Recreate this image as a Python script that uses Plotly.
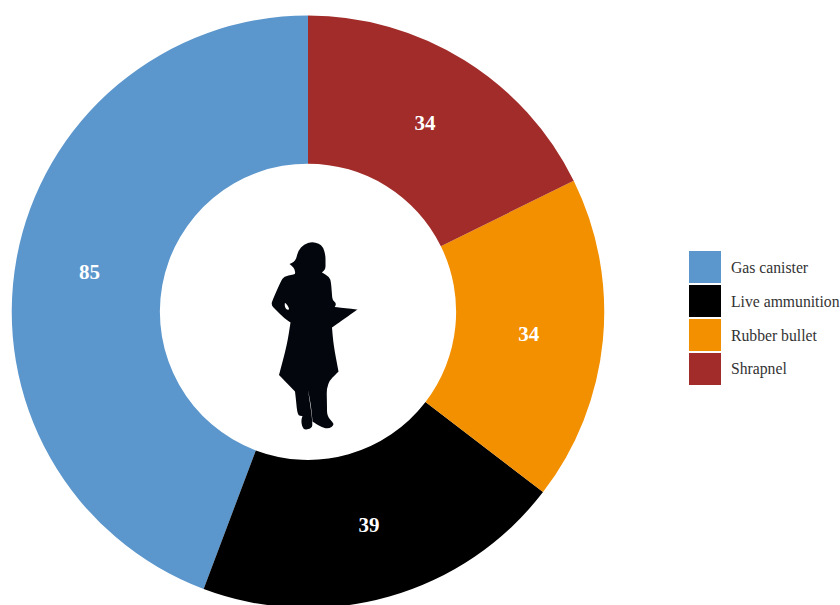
import plotly.graph_objects as go

categories = ["Gas canister", "Live ammunition", "Rubber bullet", "Shrapnel"]
values = [85, 39, 34, 34]
colors = ["#5B96CC", "#000000", "#F39000", "#A22C29"]

W, H = 840, 608
FONT = "Liberation Serif"

# Silhouette outline (window pixels); repeated points keep a corner sharp
figure_outline = [(312,241.8),(319,243.5),(323,247),(325.5,255),(325.5,264),(325.5,269),(322,272.5),(322,272.5),
    (329.5,277),(331,282),(332,295),(332.5,300),(336,303),(335.5,306),(334.5,307),(334.5,307),(357.5,309.5),(357.5,309.5),
    (332,327.5),(332,327.5),(333.5,345),(338.5,371.5),(338.5,371.5),(326.5,383.5),(327,405),(327,416),(332.5,422),
    (334,425),(329,428.8),(322,427.5),(313,422),(312.5,421.5),(311,405),(308,390),(308,390),(311,410),(312.5,423),(312,428),
    (305,430),(302,427),(301.2,420),(302.5,416),(302.5,416),(297.5,415.5),(296,400),(295,391.5),(295,391.5),
    (279,375),(279,375),(287,345),(290.5,322.5),(290.5,322.5),(284,318),(276,310),(271,305),(273,299),(281,281),
    (284,276.5),(293,274.5),(295.5,274),(294.5,269),(292.5,266.5),(289.5,264),(289.5,264),(294,262),(296.5,258),(298,251),(304,244)]
arm_gap = [(285,301.5),(290,309.5),(286.5,310),(284.5,306)]


def px(x):
    return x / W


def py(y):
    return 1 - y / H


def smooth_path(points):
    mids = [((points[i][0] + points[(i + 1) % len(points)][0]) / 2, (points[i][1] + points[(i + 1) % len(points)][1]) / 2)
            for i in range(len(points))]
    path = f"M{px(mids[-1][0]):.5f},{py(mids[-1][1]):.5f}"
    for p, m in zip(points, mids):
        path += f"Q{px(p[0]):.5f},{py(p[1]):.5f} {px(m[0]):.5f},{py(m[1]):.5f}"
    return path + "Z"


shapes = [dict(type="path", xref="paper", yref="paper", fillcolor="#03060C", line=dict(width=0),
               path=smooth_path(figure_outline)),
          dict(type="path", xref="paper", yref="paper", fillcolor="white", line=dict(width=0),
               path=smooth_path(arm_gap))]
annotations = []
for i, (name, color) in enumerate(zip(categories, colors)):
    top = 251 + i * 34
    shapes.append(dict(type="rect", xref="paper", yref="paper", x0=px(689), x1=px(721), y0=py(top), y1=py(top + 32),
                       fillcolor=color, line=dict(width=0)))
    annotations.append(dict(text=name, xref="paper", yref="paper", x=px(729), y=py(top + 16), xanchor="left",
                            yanchor="middle", showarrow=False, font=dict(family=FONT, size=15.7, color="#333333")))

# Plotly's counterclockwise pies place the first slice clockwise of the rotation angle,
# so rotate back by the first slice's sweep to start it at 12 o'clock going left.
first_sweep = 360 * values[0] / sum(values)

fig = go.Figure(go.Pie(
    labels=categories, values=values, hole=0.5, sort=False, direction="counterclockwise", rotation=-first_sweep,
    marker=dict(colors=colors, line=dict(width=0)), textinfo="value", textposition="inside",
    insidetextorientation="horizontal", textfont=dict(family=FONT, size=21, color="white", weight="bold"),
    domain=dict(x=[px(11.75), px(604.25)], y=[0, py(15.5)]), showlegend=False,
))
fig.update_layout(width=W, height=H, margin=dict(l=0, r=0, t=0, b=0), paper_bgcolor="white",
                  shapes=shapes, annotations=annotations, font=dict(family=FONT))
fig.write_html("out.html", config=dict(displayModeBar=False),
               post_script="document.body.style.margin='0';document.body.style.overflow='hidden';")
